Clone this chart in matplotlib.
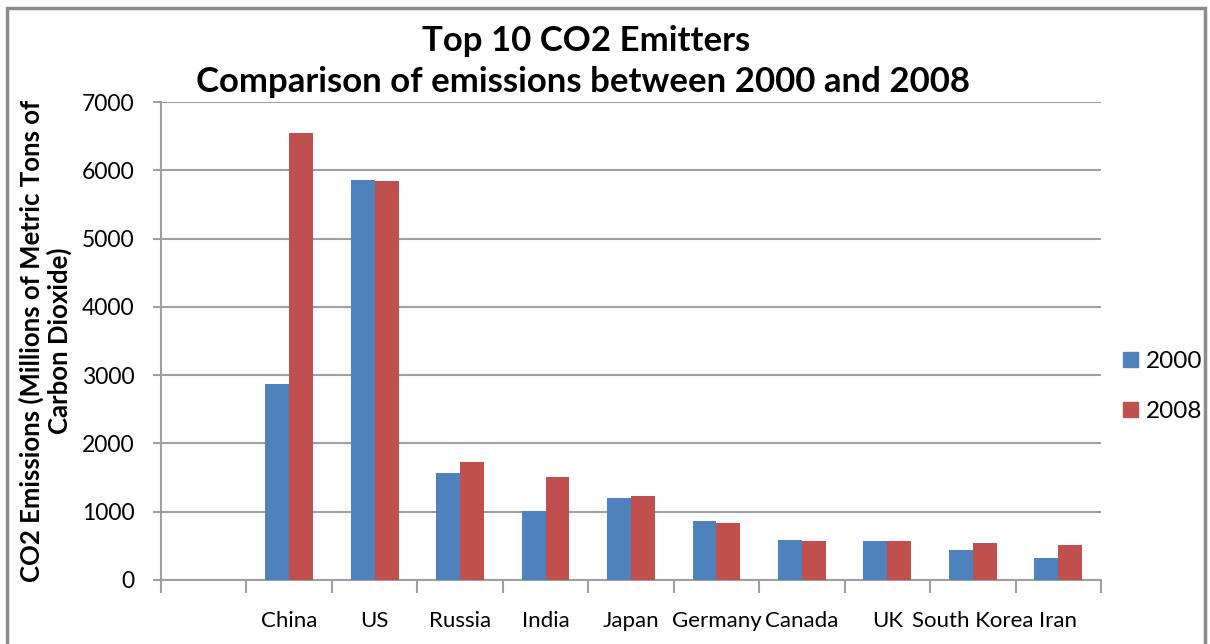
import numpy as np
import matplotlib
matplotlib.use('Agg')
import matplotlib.pyplot as plt
from matplotlib.patches import Patch, Rectangle

# Emissions en millions de tonnes de CO2
countries = ['China', 'US', 'Russia', 'India', 'Japan', 'Germany', 'Canada', 'UK', 'South Korea', 'Iran']
emissions_2000 = [2875, 5865, 1560, 1015, 1205, 868, 586, 566, 435, 322]
emissions_2008 = [6540, 5840, 1730, 1503, 1225, 830, 566, 566, 546, 508]
series_labels = ['2000', '2008']
yticks = [0, 1000, 2000, 3000, 4000, 5000, 6000, 7000]

blue = '#4F81BD'
red = '#C0504D'
grid_gray = '#A0A0A0'

plt.rcParams['font.family'] = ['Lato', 'DejaVu Sans']

fig = plt.figure(figsize=(12.10, 6.44), dpi=100)
ax = fig.add_axes([0.1331, 0.0994, 0.7768, 0.7422])

# Le premier emplacement de catégorie reste vide
x = np.arange(1, len(countries) + 1)
w = 0.28
ax.bar(x - w / 2, emissions_2000, width=w, color=blue, zorder=3)
ax.bar(x + w / 2, emissions_2008, width=w, color=red, zorder=3)

ax.set_xlim(-0.5, len(countries) + 0.5)
ax.set_ylim(0, 7000)
ax.set_yticks(yticks)
ax.tick_params(axis='y', labelsize=16.5, length=6, color=grid_gray, width=1.5, pad=13)
ax.yaxis.grid(True, color=grid_gray, linewidth=1.5, zorder=0)

ax.set_xticks(x)
ax.set_xticklabels(countries, fontsize=16)
ax.tick_params(axis='x', length=0, pad=22)
ax.set_xticks(np.arange(-0.5, len(countries) + 1), minor=True)
ax.tick_params(axis='x', which='minor', length=9, color=grid_gray, width=1.5)

for side in ['top', 'right']:
    ax.spines[side].set_visible(False)
for side in ['left', 'bottom']:
    ax.spines[side].set_color(grid_gray)
    ax.spines[side].set_linewidth(1.5)

ax.set_ylabel('CO2 Emissions (Millions of Metric Tons of\nCarbon Dioxide)',
              fontsize=18.5, fontweight='bold', labelpad=7, linespacing=1.15)

fig.text(0.484, 0.937, 'Top 10 CO2 Emitters', ha='center', va='center',
         fontsize=25, fontweight='bold')
fig.text(0.482, 0.872, 'Comparison of emissions between 2000 and 2008', ha='center', va='center',
         fontsize=25, fontweight='bold')

handles = [Patch(color=blue), Patch(color=red)]
fig.legend(handles, series_labels, loc='center left', bbox_to_anchor=(0.91, 0.40),
           frameon=False, fontsize=17.5, handlelength=0.6, handleheight=0.6,
           handletextpad=0.35, labelspacing=1.2)

# Cadre gris autour du graphique
fig.patches.append(Rectangle((0.006, -0.05), 0.990, 1.038, transform=fig.transFigure,
                             fill=False, edgecolor='#8C8C8C', linewidth=2.5))

fig.savefig('out.png', dpi=100)
